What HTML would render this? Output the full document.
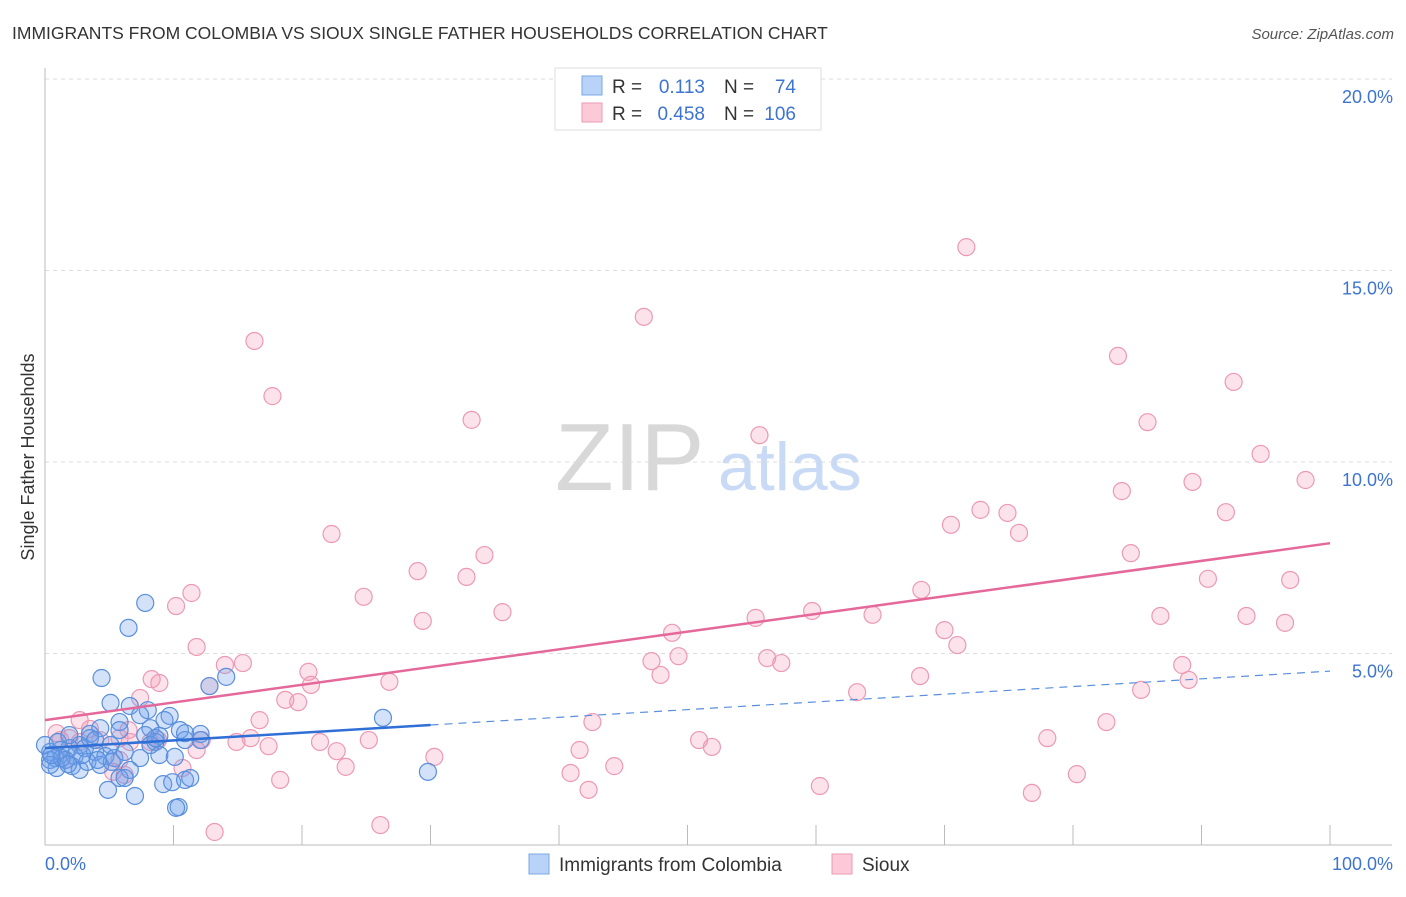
<!DOCTYPE html>
<html><head><meta charset="utf-8"><style>
body{margin:0;background:#fff;font-family:"Liberation Sans",sans-serif;}
svg text{font-family:"Liberation Sans",sans-serif;}
</style></head><body>
<svg id="chart" width="1406" height="892" xmlns="http://www.w3.org/2000/svg">
<text x="12" y="39" font-size="17.5" fill="#333">IMMIGRANTS FROM COLOMBIA VS SIOUX SINGLE FATHER HOUSEHOLDS CORRELATION CHART</text>
<text x="1394" y="39" font-size="15" fill="#555" text-anchor="end" font-style="italic">Source: ZipAtlas.com</text>
<text x="555" y="490" font-size="96" fill="#d8d8d8" font-family="Liberation Serif,serif">ZIP</text>
<text x="718" y="490" font-size="68" fill="#c8daf5">atlas</text>
<g id="grid"></g>
<g id="axes"></g>
<g id="marks"></g>
<text transform="translate(34,457) rotate(-90)" font-size="18" fill="#333" text-anchor="middle">Single Father Households</text>
<g>
<rect x="555" y="68" width="266" height="62" fill="#fff" stroke="#ddd"/>
<rect x="582" y="76" width="20" height="19" fill="#b8d3f7" stroke="#7aa7e6"/>
<rect x="582" y="103" width="20" height="19" fill="#fbc9d7" stroke="#ef9ab4"/>
<text x="612" y="93" font-size="19" fill="#333">R =</text><text x="705" y="93" font-size="19" fill="#3d74d0" text-anchor="end">0.113</text>
<text x="724" y="93" font-size="19" fill="#333">N =</text><text x="796" y="93" font-size="19" fill="#3d74d0" text-anchor="end">74</text>
<text x="612" y="120" font-size="19" fill="#333">R =</text><text x="705" y="120" font-size="19" fill="#3d74d0" text-anchor="end">0.458</text>
<text x="724" y="120" font-size="19" fill="#333">N =</text><text x="796" y="120" font-size="19" fill="#3d74d0" text-anchor="end">106</text>
</g>
<g>
<rect x="529" y="854" width="20" height="20" fill="#b8d3f7" stroke="#7aa7e6"/>
<text x="559" y="871" font-size="19" fill="#333">Immigrants from Colombia</text>
<rect x="832" y="854" width="20" height="20" fill="#fbc9d7" stroke="#ef9ab4"/>
<text x="862" y="871" font-size="19" fill="#333">Sioux</text>
</g>
</svg>
<script>
const yTicks=[5,10,15,20];
const yTickLabels=["5.0%","10.0%","15.0%","20.0%"];
const xTickLabels=["0.0%","100.0%"];
const blueX=[7.8,6.5,4.4,5.1,14.1,12.8,6.6,8.0,9.7,26.3,5.8,4.3,3.5,5.8,8.2,8.9,10.5,12.1,10.9,8.6,5.1,2.7,1.9,1.2,0.4,0.8,1.6,2.3,3.1,3.9,4.7,5.4,6.2,7.4,8.9,10.1,0.0,0.4,0.9,2.1,2.7,3.3,4.3,5.2,6.6,5.8,6.2,29.8,4.9,7.0,9.2,9.9,10.9,11.3,10.4,10.2,0.4,1.3,3.5,7.8,9.3,10.9,3.9,1.0,7.4,1.9,2.9,4.1,1.8,8.2,0.5,8.6,12.1];
const blueY=[6.32,5.67,4.36,3.71,4.39,4.15,3.63,3.52,3.37,3.32,3.21,3.05,2.90,3.00,3.05,2.85,3.00,2.90,2.74,2.69,2.61,2.61,2.53,2.48,2.43,2.27,2.22,2.32,2.53,2.43,2.32,2.27,2.43,2.27,2.35,2.30,2.61,2.22,2.01,2.06,1.96,2.17,2.09,2.17,1.96,1.75,1.75,1.91,1.44,1.28,1.59,1.64,1.70,1.75,0.99,0.97,2.09,2.27,2.79,2.87,3.26,2.92,2.74,2.69,3.39,2.87,2.35,2.22,2.11,2.61,2.35,2.79,2.74];
const pinkX=[16.3,17.7,46.6,71.7,33.2,55.6,83.5,92.5,85.8,94.6,83.8,89.3,98.1,74.9,72.8,70.5,75.8,91.9,22.3,34.2,84.5,29.0,32.8,90.5,96.9,11.4,10.2,24.8,35.6,29.4,55.3,59.7,64.4,68.2,86.8,93.5,96.5,48.8,70.0,71.0,11.8,14.0,15.4,47.2,49.3,56.2,57.3,20.5,47.9,88.5,89.0,8.3,8.9,12.8,26.8,20.7,63.2,68.1,85.3,7.4,18.7,19.7,16.7,42.6,82.6,2.7,6.5,3.5,0.9,1.2,1.9,2.7,4.3,5.8,6.6,8.2,8.8,11.8,12.2,14.9,16.0,17.4,21.4,22.7,25.2,30.3,41.6,50.9,51.9,78.0,23.4,10.7,40.9,44.3,80.3,18.3,5.3,6.2,42.3,60.3,76.8,26.1,13.2,5.8,1.6];
const pinkY=[13.16,11.72,13.79,15.61,11.10,10.70,12.77,12.09,11.04,10.21,9.24,9.48,9.53,8.67,8.75,8.36,8.15,8.69,8.12,7.57,7.62,7.15,7.00,6.95,6.92,6.58,6.24,6.48,6.08,5.85,5.93,6.11,6.01,6.66,5.98,5.98,5.80,5.54,5.61,5.22,5.17,4.70,4.75,4.80,4.93,4.88,4.75,4.52,4.44,4.70,4.31,4.33,4.23,4.15,4.26,4.18,3.99,4.41,4.05,3.84,3.79,3.73,3.26,3.21,3.21,3.26,3.00,3.03,2.92,2.74,2.79,2.69,2.74,2.79,2.69,2.69,2.74,2.48,2.74,2.69,2.79,2.58,2.69,2.45,2.74,2.30,2.48,2.74,2.56,2.79,2.04,2.01,1.88,2.06,1.85,1.70,1.91,1.83,1.44,1.54,1.36,0.52,0.34,2.22,2.22];
const blueTrend=[2.53,4.54]; // y at x=0 and x=100
const pinkTrend=[3.26,7.88];
const blueSolidEnd=30;
const NS="http://www.w3.org/2000/svg";
const X0=45,X1=1330,Y0=845,Y20=79;
function sx(v){return X0+(X1-X0)*v/100;}
function sy(v){return Y0-(Y0-Y20)*v/20;}
function mk(tag,attrs,parent){const e=document.createElementNS(NS,tag);for(const k in attrs)e.setAttribute(k,attrs[k]);parent.appendChild(e);return e;}
const grid=document.getElementById('grid'),axes=document.getElementById('axes'),marks=document.getElementById('marks');
yTicks.forEach((t,i)=>{
  const l=mk('line',{x1:X0,x2:1392,y1:sy(t),y2:sy(t),stroke:'#ddd','stroke-dasharray':'4,4'},grid);
  
  
  const tx=mk('text',{x:1393,y:sy(t)+24,'font-size':18,fill:'#3d74d0','text-anchor':'end'},axes);
  tx.textContent=yTickLabels[i];
  
  
});
const ya=mk('line',{x1:X0,x2:X0,y1:68,y2:Y0,stroke:'#bbb'},axes);


const xa=mk('line',{x1:X0,x2:1392,y1:Y0,y2:Y0,stroke:'#bbb'},axes);


for(let k=1;k<=10;k++){
  const t=mk('line',{x1:sx(k*10),x2:sx(k*10),y1:825,y2:Y0,stroke:'#bbb'},axes);
  
  
}
[[0,'start',45],[100,'end',1393]].forEach((d,i)=>{
  const tx=mk('text',{x:d[2],y:870,'font-size':18,fill:'#3d74d0','text-anchor':d[1]},axes);
  tx.textContent=xTickLabels[i];
  
  
});
function pts(xs,ys,fill,stroke,name){
  xs.forEach((x,i)=>{
    const c=mk('circle',{cx:sx(x),cy:sy(ys[i]),r:8.5,fill:fill,stroke:stroke,'stroke-width':1.2},marks);
    
    
  });
}
pts(pinkX,pinkY,'rgba(244,150,180,0.28)','#ec9ab4','sioux-point');
pts(blueX,blueY,'rgba(110,160,235,0.3)','#5a8fdc','colombia-point');
function ty(tr,x){return tr[0]+(tr[1]-tr[0])*x/100;}
const pl=mk('line',{x1:sx(0),y1:sy(ty(pinkTrend,0)),x2:sx(100),y2:sy(ty(pinkTrend,100)),stroke:'#e5689a','stroke-width':2.5},marks);


const bl=mk('line',{x1:sx(0),y1:sy(ty(blueTrend,0)),x2:sx(blueSolidEnd),y2:sy(ty(blueTrend,blueSolidEnd)),stroke:'#2f6fd6','stroke-width':2.5},marks);


const bd=mk('line',{x1:sx(blueSolidEnd),y1:sy(ty(blueTrend,blueSolidEnd)),x2:sx(100),y2:sy(ty(blueTrend,100)),stroke:'#5a8fdc','stroke-width':1.2,'stroke-dasharray':'8,6'},marks);


</script>
</body></html>
